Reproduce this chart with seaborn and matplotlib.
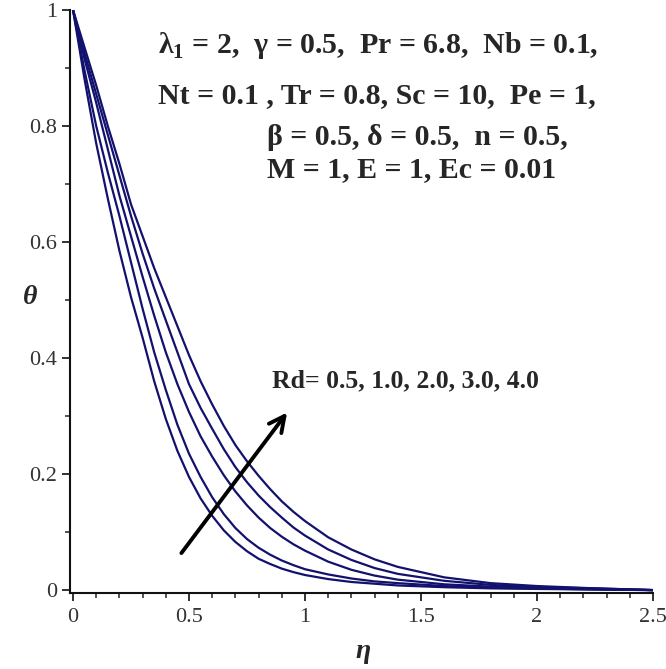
#!/usr/bin/env python3
# theta profiles for several Rd values

import matplotlib
matplotlib.use('Agg')
import matplotlib.pyplot as plt
from matplotlib.ticker import MultipleLocator
import pandas as pd
import seaborn as sns

# Data =========================================================================

eta = [0, 0.05, 0.1, 0.15, 0.2, 0.25, 0.3, 0.35, 0.4, 0.45, 0.5,
       0.55, 0.6, 0.65, 0.7, 0.75, 0.8, 0.85, 0.9, 0.95, 1.0,
       1.1, 1.2, 1.3, 1.4, 1.6, 1.8, 2.0, 2.25, 2.5]
theta_rd05 = [1, 0.88, 0.77, 0.675, 0.585, 0.505, 0.435, 0.36, 0.295, 0.24,
              0.195, 0.158, 0.128, 0.103, 0.083, 0.067, 0.054, 0.045, 0.037,
              0.031, 0.026, 0.019, 0.014, 0.011, 0.008, 0.005, 0.003, 0.002,
              0.001, 0]
theta_rd10 = [1, 0.895, 0.80, 0.72, 0.645, 0.565, 0.485, 0.41, 0.345, 0.285,
              0.235, 0.195, 0.16, 0.131, 0.107, 0.088, 0.073, 0.061, 0.051,
              0.043, 0.036, 0.027, 0.020, 0.015, 0.012, 0.007, 0.004, 0.003,
              0.001, 0]
theta_rd20 = [1, 0.915, 0.84, 0.76, 0.68, 0.61, 0.54, 0.473, 0.41, 0.355,
              0.307, 0.265, 0.23, 0.198, 0.17, 0.146, 0.125, 0.107, 0.092,
              0.079, 0.068, 0.049, 0.035, 0.025, 0.018, 0.010, 0.006, 0.004,
              0.002, 0]
theta_rd30 = [1, 0.925, 0.855, 0.785, 0.715, 0.645, 0.58, 0.52, 0.465, 0.41,
              0.355, 0.314, 0.278, 0.243, 0.212, 0.186, 0.163, 0.143, 0.125,
              0.108, 0.094, 0.07, 0.052, 0.038, 0.028, 0.016, 0.009, 0.005,
              0.003, 0]
theta_rd40 = [1, 0.935, 0.87, 0.8, 0.735, 0.665, 0.61, 0.555, 0.505, 0.455,
              0.405, 0.36, 0.32, 0.283, 0.25, 0.222, 0.197, 0.174, 0.153,
              0.135, 0.119, 0.091, 0.07, 0.053, 0.04, 0.022, 0.012, 0.007,
              0.003, 0]
rd_values = ['0.5', '1.0', '2.0', '3.0', '4.0']

xticks = [0, 0.5, 1, 1.5, 2, 2.5]
xticklabels = ['0', '0.5', '1', '1.5', '2', '2.5']
yticks = [0, 0.2, 0.4, 0.6, 0.8, 1]
yticklabels = ['0', '0.2', '0.4', '0.6', '0.8', '1']

# Plot =========================================================================

def main():
    sns.set_style('ticks')
    plt.rcParams['font.family'] = ['Liberation Serif', 'DejaVu Serif']
    plt.rcParams['mathtext.fontset'] = 'custom'
    plt.rcParams['mathtext.rm'] = 'Liberation Serif'
    plt.rcParams['mathtext.bf'] = 'Liberation Serif:bold'

    series = [theta_rd05, theta_rd10, theta_rd20, theta_rd30, theta_rd40]
    df = pd.concat(
        [pd.DataFrame({'eta': eta, 'theta': s, 'Rd': rd})
         for rd, s in zip(rd_values, series)],
        ignore_index=True
    )

    fig = plt.figure(figsize=(6.66, 6.69), dpi=100)
    ax = fig.add_axes([70 / 666, 1 - 593 / 669, 583 / 666, 583 / 669])
    line_color = '#12126e'
    sns.lineplot(
        data=df, x='eta', y='theta', hue='Rd',
        palette=[line_color] * 5, legend=False,
        estimator=None, sort=False, linewidth=1.6, ax=ax
    )

    ax.set_xlim(-0.013, 2.5)
    ax.set_ylim(-0.005, 1.0)
    ax.set_xticks(xticks)
    ax.set_xticklabels(xticklabels)
    ax.set_yticks(yticks)
    ax.set_yticklabels(yticklabels)
    ax.xaxis.set_minor_locator(MultipleLocator(0.1))
    ax.yaxis.set_minor_locator(MultipleLocator(0.1))
    ax.tick_params(which='major', length=6, width=1.3, labelsize=16,
                   colors='#222222', labelcolor='#333333')
    ax.tick_params(axis='x', which='major', pad=5)
    ax.tick_params(axis='y', which='major', pad=3)
    ax.tick_params(which='minor', length=3.5, width=1.1, colors='#222222')
    for side in ('top', 'right'):
        ax.spines[side].set_visible(False)
    for side in ('left', 'bottom'):
        ax.spines[side].set_linewidth(1.5)
        ax.spines[side].set_color('#111111')
    ax.set_xlabel('')
    ax.set_ylabel('')

    fig.text(363 / 666, 1 - 652 / 669, 'η', fontsize=20, fontweight='bold',
             style='italic', ha='center', va='center')
    fig.text(30 / 666, 1 - 298 / 669, 'θ', fontsize=20, fontweight='bold',
             style='italic', ha='center', va='center')

    # arrow and Rd label
    ax.annotate(
        '', xy=(0.93, 0.31), xytext=(0.46, 0.06),
        arrowprops=dict(arrowstyle='->', lw=2.8, color='black',
                        mutation_scale=28)
    )
    fig.text(272 / 666, 1 - 387 / 669, 'Rd= 0.5, 1.0, 2.0, 3.0, 4.0',
             fontsize=18.5, fontweight='bold', ha='left', va='baseline')

    params = [
        (158, 53, r'λ$_\mathbf{1}$ = 2,  γ = 0.5,  Pr = 6.8,  Nb = 0.1,'),
        (158, 103, 'Nt = 0.1 , Tr = 0.8, Sc = 10,  Pe = 1,'),
        (267, 145, 'β = 0.5, δ = 0.5,  n = 0.5,'),
        (267, 177, 'M = 1, E = 1, Ec = 0.01'),
    ]
    for x, y, s in params:
        fig.text(x / 666, 1 - y / 669, s, fontsize=21.5, fontweight='bold',
                 ha='left', va='baseline')

    fig.savefig('out.png', dpi=100)


if __name__ == '__main__':
    main()
